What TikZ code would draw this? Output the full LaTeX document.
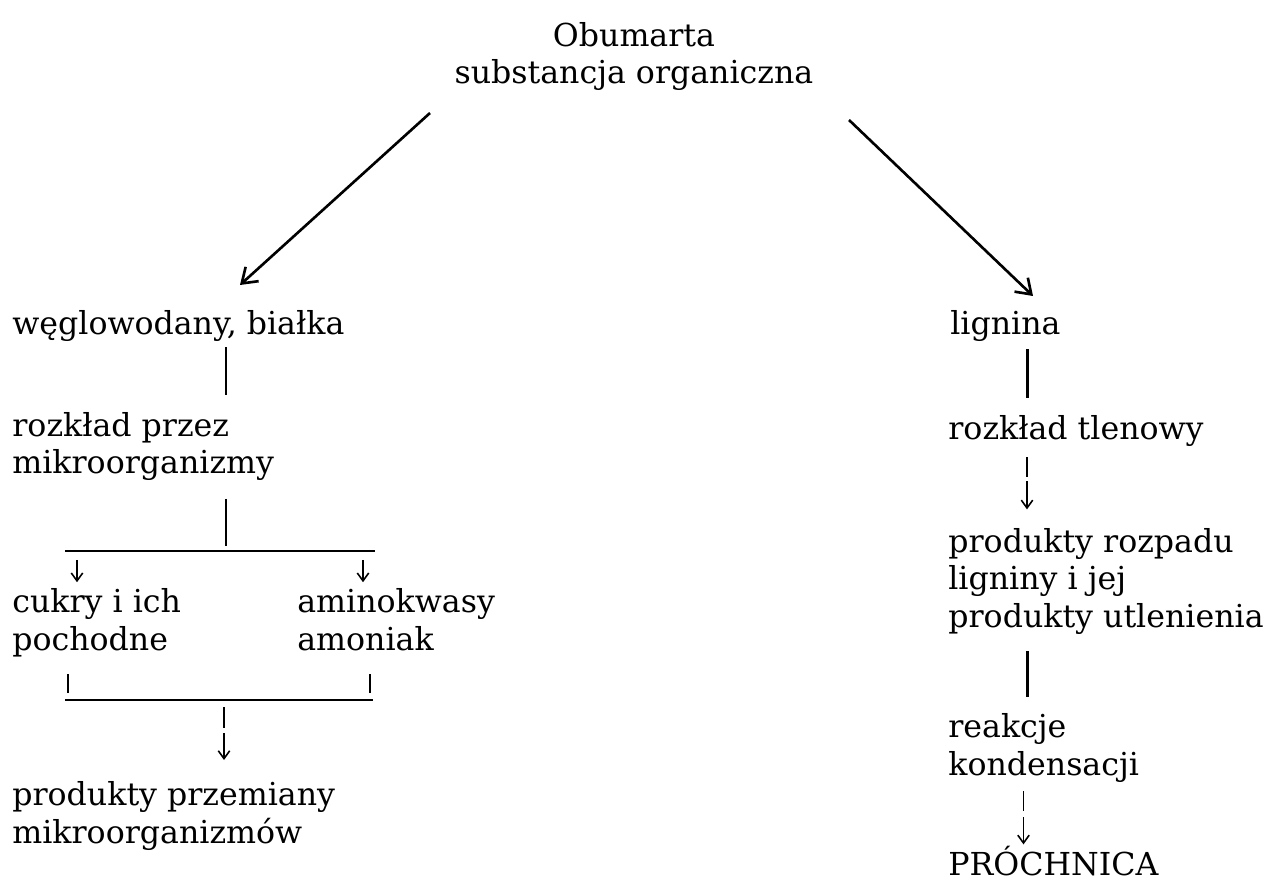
\documentclass[tikz,border=0pt]{standalone}
\usepackage{fontspec}
\setmainfont{DejaVu Serif}
\usepackage{tikz}
\usetikzlibrary{positioning,arrows.meta,calc}
\tikzset{
    txt/.style = {
        anchor=base west,
        align=left,
        inner sep=0pt,
        font=\fontsize{18}{21.3}\selectfont
    },
    trunk/.style = {
        line width=1.7pt
    },
    bar/.style = {
        line width=1.2pt
    },
    tick/.style = {
        line width=0.9pt
    },
    tip/.style = {
        line width=0.9pt,
        -{Straight Barb[length=4.5pt,width=6.5pt]}
    },
    bigtip/.style = {
        line width=1.5pt,
        -{Straight Barb[length=8pt,width=11pt]}
    },
}

\begin{document}
\begin{tikzpicture}[x=0.02cm,y=-0.02cm]
                \path[use as bounding box, fill=white] (0,0) rectangle (1280,884);

                % base anchor sits on the last line
                \node[txt, anchor=base, align=center] (dead) at (634,84) {Obumarta\\substancja organiczna};
                \node[txt] (wegl) at (12,335) {węglowodany, białka};
                \node[txt] (rozkl) at (12,474) {rozkład przez\\mikroorganizmy};
                \node[txt] (cukry) at (12,650) {cukry i ich\\pochodne};
                \node[txt] (amino) at (297,650) {aminokwasy\\amoniak};
                \node[txt] (prodm) at (12,843) {produkty przemiany\\mikroorganizmów};
                \node[txt] (lign) at (950,335) {lignina};
                \node[txt] (rtlen) at (948,440) {rozkład tlenowy};
                \node[txt] (prodr) at (948,627) {produkty rozpadu\\ligniny i jej\\produkty utlenienia};
                \node[txt] (reak) at (948,775) {reakcje\\kondensacji};
                \node[txt] (proch) at (948,875) {PRÓCHNICA};

                % junction points
                \coordinate (lx) at (226,0);
                \coordinate (rx) at (1027,0);
                \coordinate (mx) at (224,0);
                \coordinate (ca) at (77,0);
                \coordinate (cb) at (363,0);
                \coordinate (ta) at (68,0);
                \coordinate (tb) at (370,0);
                \coordinate (splitl) at (65,551);
                \coordinate (splitr) at (375,551);
                \coordinate (joinl) at (65,700);
                \coordinate (joinr) at (373,700);
                \coordinate (dl) at (430,113);
                \coordinate (hl) at (240,285);
                \coordinate (dr) at (849,120);
                \coordinate (hr) at (1033,296);

                \path[draw, bigtip] (dl) -- (hl);
                \path[draw, bigtip] (dr) -- (hr);

                % left branch
                \path[draw, trunk, shorten <=2.8pt, shorten >=9.7pt] (wegl.south -| lx) -- (rozkl.north -| lx);
                \path[draw, trunk, shorten <=10pt, shorten >=3pt] (rozkl.south -| lx) -- (lx |- splitl);
                \path[draw, bar] (splitl) -- (splitr);
                \path[draw, tip, shorten <=5pt, shorten >=3.4pt] (ca |- splitl) -- (cukry.north -| ca);
                \path[draw, tip, shorten <=5pt, shorten >=3.4pt] (cb |- splitl) -- (amino.north -| cb);
                \path[draw, tick] (ta |- joinl) ++(0,-7) -- ++(0,-19);
                \path[draw, tick] (tb |- joinl) ++(0,-7) -- ++(0,-19);
                \path[draw, bar] (joinl) -- (joinr);
                \path[draw, tip] (mx |- joinl) ++(0,7) -- ++(0,21) ++(0,5) -- ++(0,27);

                % right branch
                \path[draw, trunk, shorten <=4pt, shorten >=10pt] (lign.south -| rx) -- (rtlen.north -| rx);
                \path[draw, tip] (rtlen.south -| rx) ++(0,10) -- ++(0,20) ++(0,4) -- ++(0,28);
                \path[draw, trunk, shorten <=9.7pt, shorten >=9pt] (prodr.south -| rx) -- (reak.north -| rx);
                \path[draw, tip] ([xshift=-2pt]reak.south -| rx) ++(0,9) -- ++(0,20) ++(0,6) -- ++(0,27);
            \end{tikzpicture}
\end{document}
